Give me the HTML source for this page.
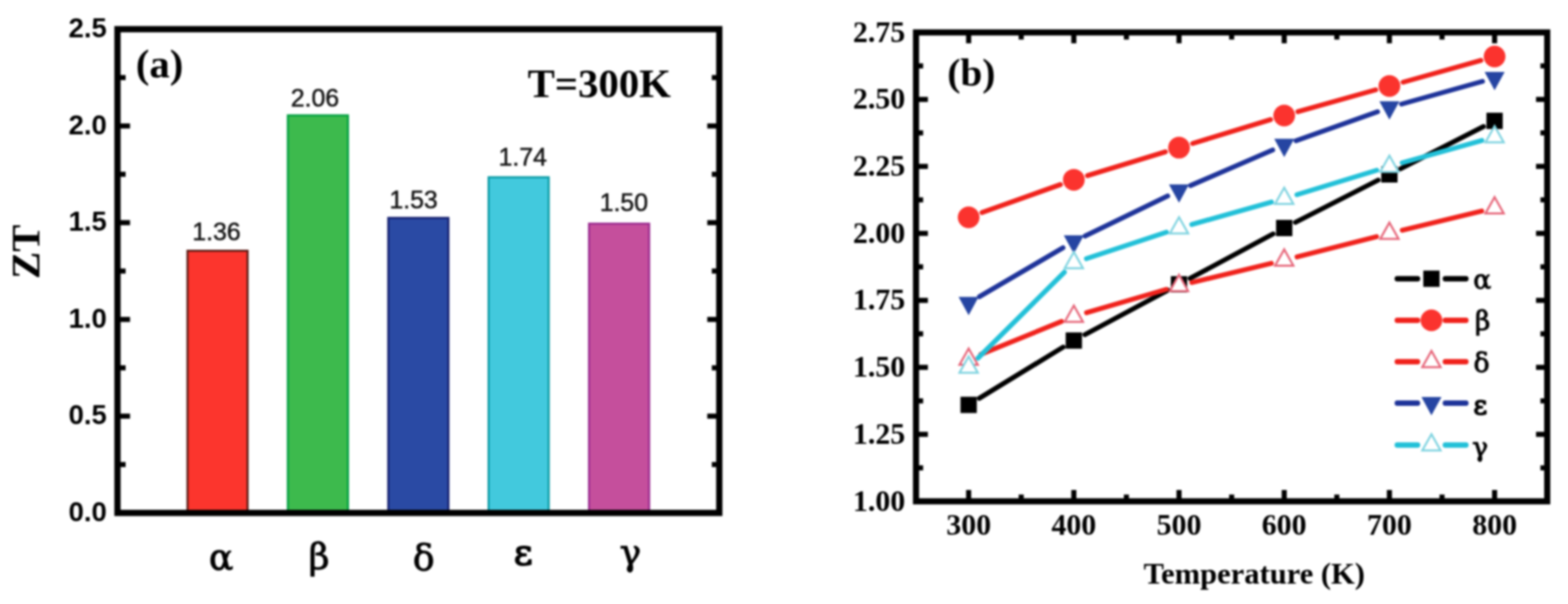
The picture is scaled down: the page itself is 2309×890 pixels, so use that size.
<!DOCTYPE html>
<html><head><meta charset="utf-8"><title>ZT figure</title>
<style>html,body{margin:0;padding:0;background:#fff;overflow:hidden;}svg{display:block;filter:blur(1.4px);}</style>
</head><body>
<svg width="2309" height="890" viewBox="0 0 2309 890">
<rect x="0" y="0" width="2309" height="890" fill="#ffffff"/>
<rect x="276.1" y="369.5" width="88.5" height="386.3" fill="#fc352d" stroke="#5a1a14" stroke-width="3"/>
<rect x="423.9" y="170.0" width="88.5" height="585.8" fill="#3dba4d" stroke="#00a040" stroke-width="3"/>
<rect x="571.8" y="321.1" width="88.5" height="434.7" fill="#2a4aa4" stroke="#141e6e" stroke-width="3"/>
<rect x="719.5" y="261.2" width="88.5" height="494.6" fill="#42c9dd" stroke="#0a9aa4" stroke-width="3"/>
<rect x="867.4" y="329.6" width="88.5" height="426.2" fill="#c54f9c" stroke="#9a2a90" stroke-width="3"/>
<text id="v0" x="318.8" y="354.1" font-family="'Liberation Sans', Arial, sans-serif" font-size="36.5" fill="#141414" stroke="#141414" stroke-width="0.7" text-anchor="middle">1.36</text>
<text id="v1" x="463.8" y="157.4" font-family="'Liberation Sans', Arial, sans-serif" font-size="36.5" fill="#141414" stroke="#141414" stroke-width="0.7" text-anchor="middle">2.06</text>
<text id="v2" x="609.1" y="306.8" font-family="'Liberation Sans', Arial, sans-serif" font-size="36.5" fill="#141414" stroke="#141414" stroke-width="0.7" text-anchor="middle">1.53</text>
<text id="v3" x="769.8" y="244.2" font-family="'Liberation Sans', Arial, sans-serif" font-size="36.5" fill="#141414" stroke="#141414" stroke-width="0.7" text-anchor="middle">1.74</text>
<text id="v4" x="918.7" y="311.2" font-family="'Liberation Sans', Arial, sans-serif" font-size="36.5" fill="#141414" stroke="#141414" stroke-width="0.7" text-anchor="middle">1.50</text>
<rect x="173.0" y="43.0" width="886.2" height="712.8" fill="none" stroke="#000" stroke-width="9.2"/>
<line x1="173.0" y1="684.5" x2="185.0" y2="684.5" stroke="#000" stroke-width="7.5"/>
<line x1="1059.2" y1="684.5" x2="1048.2" y2="684.5" stroke="#000" stroke-width="7.5"/>
<line x1="173.0" y1="613.2" x2="191.5" y2="613.2" stroke="#000" stroke-width="7.5"/>
<line x1="1059.2" y1="613.2" x2="1041.5" y2="613.2" stroke="#000" stroke-width="7.5"/>
<line x1="173.0" y1="542.0" x2="185.0" y2="542.0" stroke="#000" stroke-width="7.5"/>
<line x1="1059.2" y1="542.0" x2="1048.2" y2="542.0" stroke="#000" stroke-width="7.5"/>
<line x1="173.0" y1="470.7" x2="191.5" y2="470.7" stroke="#000" stroke-width="7.5"/>
<line x1="1059.2" y1="470.7" x2="1041.5" y2="470.7" stroke="#000" stroke-width="7.5"/>
<line x1="173.0" y1="399.4" x2="185.0" y2="399.4" stroke="#000" stroke-width="7.5"/>
<line x1="1059.2" y1="399.4" x2="1048.2" y2="399.4" stroke="#000" stroke-width="7.5"/>
<line x1="173.0" y1="328.1" x2="191.5" y2="328.1" stroke="#000" stroke-width="7.5"/>
<line x1="1059.2" y1="328.1" x2="1041.5" y2="328.1" stroke="#000" stroke-width="7.5"/>
<line x1="173.0" y1="256.8" x2="185.0" y2="256.8" stroke="#000" stroke-width="7.5"/>
<line x1="1059.2" y1="256.8" x2="1048.2" y2="256.8" stroke="#000" stroke-width="7.5"/>
<line x1="173.0" y1="185.6" x2="191.5" y2="185.6" stroke="#000" stroke-width="7.5"/>
<line x1="1059.2" y1="185.6" x2="1041.5" y2="185.6" stroke="#000" stroke-width="7.5"/>
<line x1="173.0" y1="114.3" x2="185.0" y2="114.3" stroke="#000" stroke-width="7.5"/>
<line x1="1059.2" y1="114.3" x2="1048.2" y2="114.3" stroke="#000" stroke-width="7.5"/>
<text id="ya0.0" x="157.3" y="767.8" font-family="'Liberation Sans', Arial, sans-serif" font-weight="bold" font-size="40.5" text-anchor="end" fill="#000">0.0</text>
<text id="ya0.5" x="157.3" y="625.2" font-family="'Liberation Sans', Arial, sans-serif" font-weight="bold" font-size="40.5" text-anchor="end" fill="#000">0.5</text>
<text id="ya1.0" x="157.3" y="482.7" font-family="'Liberation Sans', Arial, sans-serif" font-weight="bold" font-size="40.5" text-anchor="end" fill="#000">1.0</text>
<text id="ya1.5" x="157.3" y="340.1" font-family="'Liberation Sans', Arial, sans-serif" font-weight="bold" font-size="40.5" text-anchor="end" fill="#000">1.5</text>
<text id="ya2.0" x="157.3" y="197.6" font-family="'Liberation Sans', Arial, sans-serif" font-weight="bold" font-size="40.5" text-anchor="end" fill="#000">2.0</text>
<text id="ya2.5" x="157.3" y="55.0" font-family="'Liberation Sans', Arial, sans-serif" font-weight="bold" font-size="40.5" text-anchor="end" fill="#000">2.5</text>
<text id="gx0" x="325.6" y="839.2" font-family="'DejaVu Serif', serif" font-size="53" text-anchor="middle" fill="#000" stroke="#000" stroke-width="1.3">α</text>
<text id="gx1" x="469.9" y="837.7" font-family="'DejaVu Serif', serif" font-size="53" text-anchor="middle" fill="#000" stroke="#000" stroke-width="1.3">β</text>
<text id="gx2" x="624.0" y="839.8" font-family="'DejaVu Serif', serif" font-size="53" text-anchor="middle" fill="#000" stroke="#000" stroke-width="1.3">δ</text>
<text id="gx3" x="770.5" y="832.2" font-family="'DejaVu Serif', serif" font-size="53" text-anchor="middle" fill="#000" stroke="#000" stroke-width="2.2">ε</text>
<text id="gx4" x="928.4" y="831.8" font-family="'DejaVu Serif', serif" font-size="53" text-anchor="middle" fill="#000" stroke="#000" stroke-width="1.3">γ</text>
<text id="ZT" transform="translate(58,371) rotate(-90)" font-family="'Liberation Serif', 'Times New Roman', serif" font-weight="bold" font-size="60" text-anchor="middle" fill="#000">ZT</text>
<text id="lab_a" x="200" y="114" font-family="'Liberation Serif', 'Times New Roman', serif" font-weight="bold" font-size="60" fill="#000">(a)</text>
<text id="T300" x="777" y="142.5" font-family="'Liberation Serif', 'Times New Roman', serif" font-weight="bold" font-size="60" fill="#000">T=300K</text>
<line x1="1442.1" y1="586.9" x2="1565.5" y2="511.5" stroke="#000000" stroke-width="7.2" stroke-linecap="round"/>
<line x1="1597.6" y1="493.1" x2="1719.9" y2="427.6" stroke="#000000" stroke-width="7.2" stroke-linecap="round"/>
<line x1="1752.5" y1="410.2" x2="1874.8" y2="344.7" stroke="#000000" stroke-width="7.2" stroke-linecap="round"/>
<line x1="1907.6" y1="327.6" x2="2029.5" y2="265.4" stroke="#000000" stroke-width="7.2" stroke-linecap="round"/>
<line x1="2062.5" y1="248.6" x2="2184.5" y2="186.5" stroke="#000000" stroke-width="7.2" stroke-linecap="round"/>
<rect x="1414.4" y="584.6" width="24" height="24" fill="#000000"/>
<rect x="1569.3" y="489.8" width="24" height="24" fill="#000000"/>
<rect x="1724.2" y="406.9" width="24" height="24" fill="#000000"/>
<rect x="1879.1" y="324.0" width="24" height="24" fill="#000000"/>
<rect x="2034.0" y="245.0" width="24" height="24" fill="#000000"/>
<rect x="2188.9" y="166.1" width="24" height="24" fill="#000000"/>
<line x1="1446.1" y1="313.2" x2="1561.5" y2="272.0" stroke="#f0221c" stroke-width="7.2" stroke-linecap="round"/>
<line x1="1601.4" y1="258.8" x2="1716.1" y2="223.7" stroke="#f0221c" stroke-width="7.2" stroke-linecap="round"/>
<line x1="1756.3" y1="211.4" x2="1871.0" y2="176.3" stroke="#f0221c" stroke-width="7.2" stroke-linecap="round"/>
<line x1="1911.3" y1="164.5" x2="2025.8" y2="132.4" stroke="#f0221c" stroke-width="7.2" stroke-linecap="round"/>
<line x1="2066.2" y1="121.1" x2="2180.7" y2="89.0" stroke="#f0221c" stroke-width="7.2" stroke-linecap="round"/>
<circle cx="1426.4" cy="320.2" r="16" fill="#fb332e"/>
<circle cx="1581.3" cy="264.9" r="16" fill="#fb332e"/>
<circle cx="1736.2" cy="217.6" r="16" fill="#fb332e"/>
<circle cx="1891.1" cy="170.2" r="16" fill="#fb332e"/>
<circle cx="2046.0" cy="126.8" r="16" fill="#fb332e"/>
<circle cx="2200.9" cy="83.3" r="16" fill="#fb332e"/>
<line x1="1444.4" y1="522.1" x2="1563.2" y2="473.7" stroke="#f0221c" stroke-width="7.2" stroke-linecap="round"/>
<line x1="1600.0" y1="460.8" x2="1717.5" y2="426.4" stroke="#f0221c" stroke-width="7.2" stroke-linecap="round"/>
<line x1="1755.1" y1="416.3" x2="1872.2" y2="388.0" stroke="#f0221c" stroke-width="7.2" stroke-linecap="round"/>
<line x1="1910.0" y1="378.6" x2="2027.1" y2="348.7" stroke="#f0221c" stroke-width="7.2" stroke-linecap="round"/>
<line x1="2065.0" y1="339.3" x2="2182.0" y2="311.0" stroke="#f0221c" stroke-width="7.2" stroke-linecap="round"/>
<polygon points="1426.4,513.5 1439.9,537.5 1412.9,537.5" fill="#fff" stroke="#e66478" stroke-width="3" stroke-linejoin="miter"/>
<polygon points="1581.3,450.3 1594.8,474.3 1567.8,474.3" fill="#fff" stroke="#e66478" stroke-width="3" stroke-linejoin="miter"/>
<polygon points="1736.2,404.9 1749.7,428.9 1722.7,428.9" fill="#fff" stroke="#e66478" stroke-width="3" stroke-linejoin="miter"/>
<polygon points="1891.1,367.4 1904.6,391.4 1877.6,391.4" fill="#fff" stroke="#e66478" stroke-width="3" stroke-linejoin="miter"/>
<polygon points="2046.0,327.9 2059.5,351.9 2032.5,351.9" fill="#fff" stroke="#e66478" stroke-width="3" stroke-linejoin="miter"/>
<polygon points="2200.9,290.4 2214.4,314.4 2187.4,314.4" fill="#fff" stroke="#e66478" stroke-width="3" stroke-linejoin="miter"/>
<line x1="1442.3" y1="437.2" x2="1565.3" y2="365.1" stroke="#1e3399" stroke-width="7.2" stroke-linecap="round"/>
<line x1="1597.9" y1="347.7" x2="1719.5" y2="288.8" stroke="#1e3399" stroke-width="7.2" stroke-linecap="round"/>
<line x1="1753.2" y1="273.4" x2="1874.1" y2="221.0" stroke="#1e3399" stroke-width="7.2" stroke-linecap="round"/>
<line x1="1908.5" y1="207.4" x2="2028.6" y2="164.6" stroke="#1e3399" stroke-width="7.2" stroke-linecap="round"/>
<line x1="2063.8" y1="153.4" x2="2183.1" y2="119.9" stroke="#1e3399" stroke-width="7.2" stroke-linecap="round"/>
<polygon points="1411.6,437.5 1441.1,437.5 1426.4,464.5" fill="#2645a2"/>
<polygon points="1566.5,346.7 1596.0,346.7 1581.3,373.7" fill="#2645a2"/>
<polygon points="1721.4,271.7 1750.9,271.7 1736.2,298.7" fill="#2645a2"/>
<polygon points="1876.4,204.6 1905.9,204.6 1891.1,231.6" fill="#2645a2"/>
<polygon points="2031.3,149.3 2060.8,149.3 2046.0,176.3" fill="#2645a2"/>
<polygon points="2186.2,105.9 2215.7,105.9 2200.9,132.9" fill="#2645a2"/>
<line x1="1440.2" y1="527.6" x2="1567.4" y2="401.1" stroke="#22c0d8" stroke-width="7.2" stroke-linecap="round"/>
<line x1="1599.8" y1="381.2" x2="1717.7" y2="342.1" stroke="#22c0d8" stroke-width="7.2" stroke-linecap="round"/>
<line x1="1755.0" y1="330.7" x2="1872.3" y2="297.8" stroke="#22c0d8" stroke-width="7.2" stroke-linecap="round"/>
<line x1="1909.8" y1="286.9" x2="2027.4" y2="250.9" stroke="#22c0d8" stroke-width="7.2" stroke-linecap="round"/>
<line x1="2064.8" y1="239.9" x2="2182.2" y2="207.0" stroke="#22c0d8" stroke-width="7.2" stroke-linecap="round"/>
<polygon points="1426.4,525.3 1439.9,549.3 1412.9,549.3" fill="#fff" stroke="#7fd3e0" stroke-width="3" stroke-linejoin="miter"/>
<polygon points="1581.3,371.3 1594.8,395.3 1567.8,395.3" fill="#fff" stroke="#7fd3e0" stroke-width="3" stroke-linejoin="miter"/>
<polygon points="1736.2,320.0 1749.7,344.0 1722.7,344.0" fill="#fff" stroke="#7fd3e0" stroke-width="3" stroke-linejoin="miter"/>
<polygon points="1891.1,276.6 1904.6,300.6 1877.6,300.6" fill="#fff" stroke="#7fd3e0" stroke-width="3" stroke-linejoin="miter"/>
<polygon points="2046.0,229.2 2059.5,253.2 2032.5,253.2" fill="#fff" stroke="#7fd3e0" stroke-width="3" stroke-linejoin="miter"/>
<polygon points="2200.9,185.8 2214.4,209.8 2187.4,209.8" fill="#fff" stroke="#7fd3e0" stroke-width="3" stroke-linejoin="miter"/>
<rect x="1348.9" y="47.8" width="929.5" height="690.9" fill="none" stroke="#000" stroke-width="9"/>
<line x1="1348.9" y1="689.4" x2="1359.4" y2="689.4" stroke="#000" stroke-width="7.5"/>
<line x1="2278.4" y1="689.4" x2="2268.4" y2="689.4" stroke="#000" stroke-width="7.5"/>
<line x1="1348.9" y1="640.0" x2="1366.4" y2="640.0" stroke="#000" stroke-width="7.5"/>
<line x1="2278.4" y1="640.0" x2="2261.9" y2="640.0" stroke="#000" stroke-width="7.5"/>
<line x1="1348.9" y1="590.7" x2="1359.4" y2="590.7" stroke="#000" stroke-width="7.5"/>
<line x1="2278.4" y1="590.7" x2="2268.4" y2="590.7" stroke="#000" stroke-width="7.5"/>
<line x1="1348.9" y1="541.3" x2="1366.4" y2="541.3" stroke="#000" stroke-width="7.5"/>
<line x1="2278.4" y1="541.3" x2="2261.9" y2="541.3" stroke="#000" stroke-width="7.5"/>
<line x1="1348.9" y1="491.9" x2="1359.4" y2="491.9" stroke="#000" stroke-width="7.5"/>
<line x1="2278.4" y1="491.9" x2="2268.4" y2="491.9" stroke="#000" stroke-width="7.5"/>
<line x1="1348.9" y1="442.6" x2="1366.4" y2="442.6" stroke="#000" stroke-width="7.5"/>
<line x1="2278.4" y1="442.6" x2="2261.9" y2="442.6" stroke="#000" stroke-width="7.5"/>
<line x1="1348.9" y1="393.2" x2="1359.4" y2="393.2" stroke="#000" stroke-width="7.5"/>
<line x1="2278.4" y1="393.2" x2="2268.4" y2="393.2" stroke="#000" stroke-width="7.5"/>
<line x1="1348.9" y1="343.9" x2="1366.4" y2="343.9" stroke="#000" stroke-width="7.5"/>
<line x1="2278.4" y1="343.9" x2="2261.9" y2="343.9" stroke="#000" stroke-width="7.5"/>
<line x1="1348.9" y1="294.5" x2="1359.4" y2="294.5" stroke="#000" stroke-width="7.5"/>
<line x1="2278.4" y1="294.5" x2="2268.4" y2="294.5" stroke="#000" stroke-width="7.5"/>
<line x1="1348.9" y1="245.2" x2="1366.4" y2="245.2" stroke="#000" stroke-width="7.5"/>
<line x1="2278.4" y1="245.2" x2="2261.9" y2="245.2" stroke="#000" stroke-width="7.5"/>
<line x1="1348.9" y1="195.8" x2="1359.4" y2="195.8" stroke="#000" stroke-width="7.5"/>
<line x1="2278.4" y1="195.8" x2="2268.4" y2="195.8" stroke="#000" stroke-width="7.5"/>
<line x1="1348.9" y1="146.5" x2="1366.4" y2="146.5" stroke="#000" stroke-width="7.5"/>
<line x1="2278.4" y1="146.5" x2="2261.9" y2="146.5" stroke="#000" stroke-width="7.5"/>
<line x1="1348.9" y1="97.1" x2="1359.4" y2="97.1" stroke="#000" stroke-width="7.5"/>
<line x1="2278.4" y1="97.1" x2="2268.4" y2="97.1" stroke="#000" stroke-width="7.5"/>
<line x1="1426.4" y1="738.7" x2="1426.4" y2="722.0" stroke="#000" stroke-width="7.5"/>
<line x1="1426.4" y1="47.8" x2="1426.4" y2="63.8" stroke="#000" stroke-width="7.5"/>
<line x1="1503.8" y1="738.7" x2="1503.8" y2="728.7" stroke="#000" stroke-width="7.5"/>
<line x1="1503.8" y1="47.8" x2="1503.8" y2="58.3" stroke="#000" stroke-width="7.5"/>
<line x1="1581.3" y1="738.7" x2="1581.3" y2="722.0" stroke="#000" stroke-width="7.5"/>
<line x1="1581.3" y1="47.8" x2="1581.3" y2="63.8" stroke="#000" stroke-width="7.5"/>
<line x1="1658.7" y1="738.7" x2="1658.7" y2="728.7" stroke="#000" stroke-width="7.5"/>
<line x1="1658.7" y1="47.8" x2="1658.7" y2="58.3" stroke="#000" stroke-width="7.5"/>
<line x1="1736.2" y1="738.7" x2="1736.2" y2="722.0" stroke="#000" stroke-width="7.5"/>
<line x1="1736.2" y1="47.8" x2="1736.2" y2="63.8" stroke="#000" stroke-width="7.5"/>
<line x1="1813.7" y1="738.7" x2="1813.7" y2="728.7" stroke="#000" stroke-width="7.5"/>
<line x1="1813.7" y1="47.8" x2="1813.7" y2="58.3" stroke="#000" stroke-width="7.5"/>
<line x1="1891.1" y1="738.7" x2="1891.1" y2="722.0" stroke="#000" stroke-width="7.5"/>
<line x1="1891.1" y1="47.8" x2="1891.1" y2="63.8" stroke="#000" stroke-width="7.5"/>
<line x1="1968.6" y1="738.7" x2="1968.6" y2="728.7" stroke="#000" stroke-width="7.5"/>
<line x1="1968.6" y1="47.8" x2="1968.6" y2="58.3" stroke="#000" stroke-width="7.5"/>
<line x1="2046.0" y1="738.7" x2="2046.0" y2="722.0" stroke="#000" stroke-width="7.5"/>
<line x1="2046.0" y1="47.8" x2="2046.0" y2="63.8" stroke="#000" stroke-width="7.5"/>
<line x1="2123.5" y1="738.7" x2="2123.5" y2="728.7" stroke="#000" stroke-width="7.5"/>
<line x1="2123.5" y1="47.8" x2="2123.5" y2="58.3" stroke="#000" stroke-width="7.5"/>
<line x1="2200.9" y1="738.7" x2="2200.9" y2="722.0" stroke="#000" stroke-width="7.5"/>
<line x1="2200.9" y1="47.8" x2="2200.9" y2="63.8" stroke="#000" stroke-width="7.5"/>
<text id="yb1.00" x="1333" y="752.5" font-family="'Liberation Serif', 'Times New Roman', serif" font-weight="bold" font-size="44" text-anchor="end" fill="#000">1.00</text>
<text id="yb1.25" x="1333" y="653.8" font-family="'Liberation Serif', 'Times New Roman', serif" font-weight="bold" font-size="44" text-anchor="end" fill="#000">1.25</text>
<text id="yb1.50" x="1333" y="555.1" font-family="'Liberation Serif', 'Times New Roman', serif" font-weight="bold" font-size="44" text-anchor="end" fill="#000">1.50</text>
<text id="yb1.75" x="1333" y="456.4" font-family="'Liberation Serif', 'Times New Roman', serif" font-weight="bold" font-size="44" text-anchor="end" fill="#000">1.75</text>
<text id="yb2.00" x="1333" y="357.7" font-family="'Liberation Serif', 'Times New Roman', serif" font-weight="bold" font-size="44" text-anchor="end" fill="#000">2.00</text>
<text id="yb2.25" x="1333" y="259.0" font-family="'Liberation Serif', 'Times New Roman', serif" font-weight="bold" font-size="44" text-anchor="end" fill="#000">2.25</text>
<text id="yb2.50" x="1333" y="160.3" font-family="'Liberation Serif', 'Times New Roman', serif" font-weight="bold" font-size="44" text-anchor="end" fill="#000">2.50</text>
<text id="yb2.75" x="1333" y="61.6" font-family="'Liberation Serif', 'Times New Roman', serif" font-weight="bold" font-size="44" text-anchor="end" fill="#000">2.75</text>
<text id="xb300" x="1426.4" y="788" font-family="'Liberation Serif', 'Times New Roman', serif" font-weight="bold" font-size="44" text-anchor="middle" fill="#000">300</text>
<text id="xb400" x="1581.3" y="788" font-family="'Liberation Serif', 'Times New Roman', serif" font-weight="bold" font-size="44" text-anchor="middle" fill="#000">400</text>
<text id="xb500" x="1736.2" y="788" font-family="'Liberation Serif', 'Times New Roman', serif" font-weight="bold" font-size="44" text-anchor="middle" fill="#000">500</text>
<text id="xb600" x="1891.1" y="788" font-family="'Liberation Serif', 'Times New Roman', serif" font-weight="bold" font-size="44" text-anchor="middle" fill="#000">600</text>
<text id="xb700" x="2046.0" y="788" font-family="'Liberation Serif', 'Times New Roman', serif" font-weight="bold" font-size="44" text-anchor="middle" fill="#000">700</text>
<text id="xb800" x="2200.9" y="788" font-family="'Liberation Serif', 'Times New Roman', serif" font-weight="bold" font-size="44" text-anchor="middle" fill="#000">800</text>
<text id="temp" x="1847" y="860" font-family="'Liberation Serif', 'Times New Roman', serif" font-weight="bold" font-size="45" text-anchor="middle" fill="#000">Temperature (K)</text>
<text id="lab_b" x="1395" y="126" font-family="'Liberation Serif', 'Times New Roman', serif" font-weight="bold" font-size="58" fill="#000">(b)</text>
<line x1="2057.6" y1="410.7" x2="2087.4" y2="410.7" stroke="#000000" stroke-width="8" stroke-linecap="round"/>
<line x1="2128.4" y1="410.7" x2="2158.6" y2="410.7" stroke="#000000" stroke-width="8" stroke-linecap="round"/>
<rect x="2095.9" y="398.7" width="24" height="24" fill="#000000"/>
<text id="lg0" x="2169.5" y="425.2" font-family="'DejaVu Serif', serif" font-size="39" fill="#000" stroke="#000" stroke-width="1.3">α</text>
<line x1="2057.6" y1="472.0" x2="2087.4" y2="472.0" stroke="#f0221c" stroke-width="8" stroke-linecap="round"/>
<line x1="2128.4" y1="472.0" x2="2158.6" y2="472.0" stroke="#f0221c" stroke-width="8" stroke-linecap="round"/>
<circle cx="2107.9" cy="472.0" r="16" fill="#fb332e"/>
<text id="lg1" x="2171.9" y="486.4" font-family="'DejaVu Serif', serif" font-size="39" fill="#000" stroke="#000" stroke-width="1.3">β</text>
<line x1="2057.6" y1="533.1" x2="2087.4" y2="533.1" stroke="#f0221c" stroke-width="8" stroke-linecap="round"/>
<line x1="2128.4" y1="533.1" x2="2158.6" y2="533.1" stroke="#f0221c" stroke-width="8" stroke-linecap="round"/>
<polygon points="2107.9,517.1 2121.4,541.1 2094.4,541.1" fill="#fff" stroke="#e66478" stroke-width="3" stroke-linejoin="miter"/>
<text id="lg2" x="2170" y="548.2" font-family="'DejaVu Serif', serif" font-size="39" fill="#000" stroke="#000" stroke-width="1.3">δ</text>
<line x1="2057.6" y1="593.9" x2="2087.4" y2="593.9" stroke="#1e3399" stroke-width="8" stroke-linecap="round"/>
<line x1="2128.4" y1="593.9" x2="2158.6" y2="593.9" stroke="#1e3399" stroke-width="8" stroke-linecap="round"/>
<polygon points="2093.2,584.9 2122.7,584.9 2107.9,611.9" fill="#2645a2"/>
<text id="lg3" x="2169.8" y="609.7" font-family="'DejaVu Serif', serif" font-size="39" fill="#000" stroke="#000" stroke-width="2.0">ε</text>
<line x1="2057.6" y1="655.8" x2="2087.4" y2="655.8" stroke="#22c0d8" stroke-width="8" stroke-linecap="round"/>
<line x1="2128.4" y1="655.8" x2="2158.6" y2="655.8" stroke="#22c0d8" stroke-width="8" stroke-linecap="round"/>
<polygon points="2107.9,639.8 2121.4,663.8 2094.4,663.8" fill="#fff" stroke="#7fd3e0" stroke-width="3" stroke-linejoin="miter"/>
<text id="lg4" x="2168" y="672.2" font-family="'DejaVu Serif', serif" font-size="39" fill="#000" stroke="#000" stroke-width="1.3">γ</text>
</svg>
</body></html>
